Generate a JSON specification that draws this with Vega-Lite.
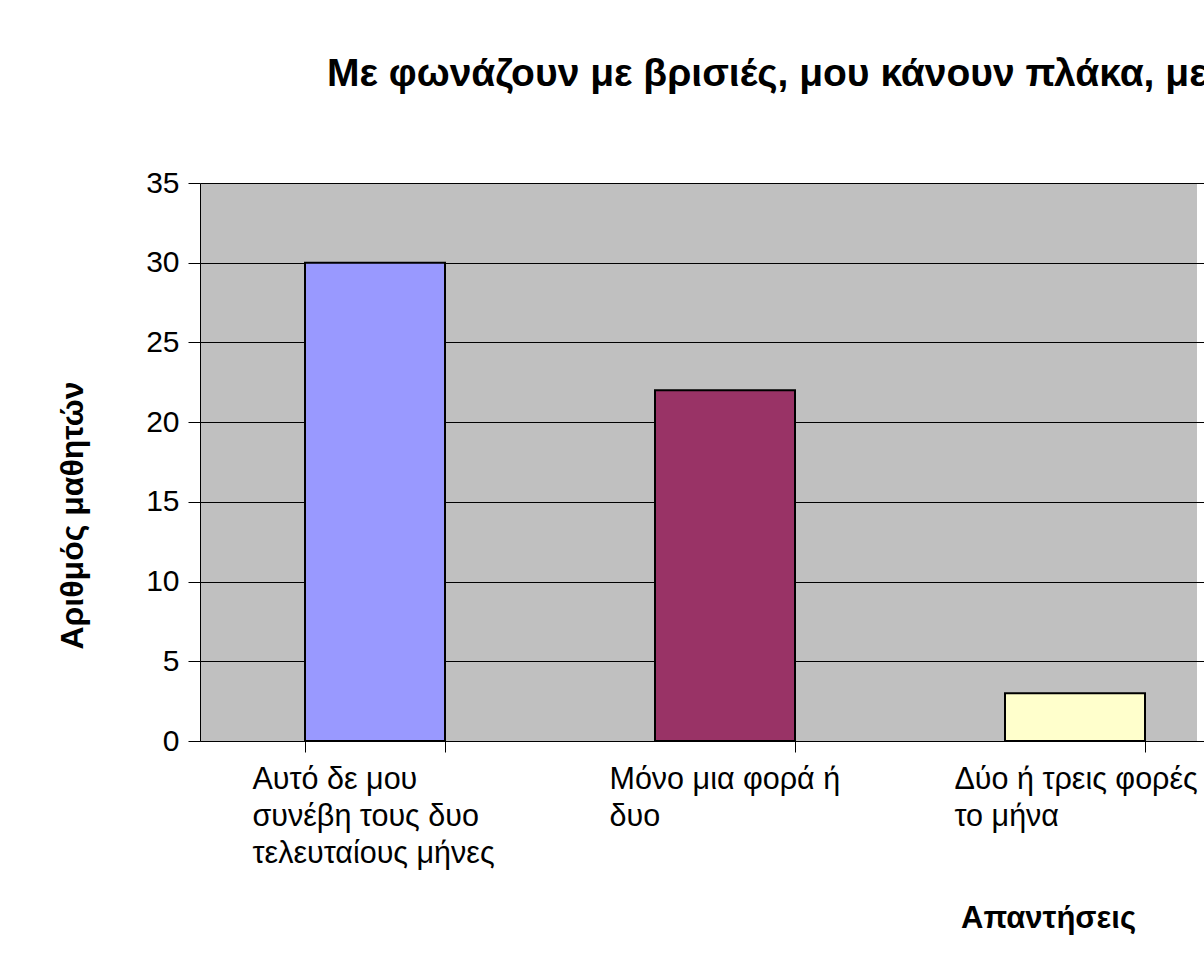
{
  "$schema": "https://vega.github.io/schema/vega-lite/v6.json",
  "autosize": {"type": "none"},
  "width": 997,
  "height": 558,
  "padding": {"left": 200, "top": 183, "right": 7, "bottom": 229},
  "background": "white",
  "config": {
    "font": "Liberation Sans",
    "view": {"fill": "#C0C0C0", "stroke": null}
  },
  "title": {
    "text": "Με φωνάζουν με βρισιές, μου κάνουν πλάκα, με",
    "anchor": "start",
    "frame": "group",
    "dx": 127,
    "baseline": "alphabetic",
    "offset": 43,
    "font": "Liberation Sans",
    "fontSize": 39,
    "fontWeight": "bold",
    "color": "black"
  },
  "data": {
    "values": [
      {"answer": "Αυτό δε μου συνέβη τους δυο τελευταίους μήνες", "students": 30},
      {"answer": "Μόνο μια φορά ή δυο", "students": 22},
      {"answer": "Δύο ή τρεις φορές το μήνα", "students": 3}
    ]
  },
  "mark": {"type": "bar", "stroke": "black", "strokeWidth": 2},
  "encoding": {
    "x": {
      "field": "answer",
      "type": "nominal",
      "sort": null,
      "scale": {"range": [0, 1050], "paddingInner": 0.6, "paddingOuter": 0.3},
      "axis": {
        "title": "Απαντήσεις",
        "titleFont": "Liberation Sans",
        "titleFontSize": 31,
        "titleFontWeight": "bold",
        "titleColor": "black",
        "titleX": 848,
        "titleY": 186,
        "titleAlign": "center",
        "titleBaseline": "alphabetic",
        "titleAngle": 0,
        "labelAngle": 0,
        "labelFont": "Liberation Sans",
        "labelFontSize": 30.5,
        "labelColor": "black",
        "labelAlign": "left",
        "labelBaseline": "top",
        "labelLineHeight": 37,
        "labelPadding": 12,
        "labelLimit": 0,
        "labelExpr": "datum.value == 'Αυτό δε μου συνέβη τους δυο τελευταίους μήνες' ? ['Αυτό δε μου', 'συνέβη τους δυο', 'τελευταίους μήνες'] : datum.value == 'Μόνο μια φορά ή δυο' ? ['Μόνο μια φορά ή', 'δυο'] : datum.value == 'Δύο ή τρεις φορές το μήνα' ? ['Δύο ή τρεις φορές', 'το μήνα'] : ''",
        "labelOffset": {
          "condition": [
            {"test": "datum.value == 'Αυτό δε μου συνέβη τους δυο τελευταίους μήνες'", "value": -123},
            {"test": "datum.value == 'Μόνο μια φορά ή δυο'", "value": -116}
          ],
          "value": -121
        },
        "tickBand": "extent",
        "tickSize": 11,
        "tickColor": "black",
        "domainColor": "black",
        "domainWidth": 1,
        "grid": false
      }
    },
    "y": {
      "field": "students",
      "type": "quantitative",
      "scale": {"domain": [0, 35], "nice": false},
      "axis": {
        "values": [0, 5, 10, 15, 20, 25, 30, 35],
        "title": "Αριθμός μαθητών",
        "titleFont": "Liberation Sans",
        "titleFontSize": 32,
        "titleFontWeight": "bold",
        "titleColor": "black",
        "titleAngle": 270,
        "titleX": -118,
        "titleY": 332,
        "titleAlign": "center",
        "titleBaseline": "alphabetic",
        "labelFont": "Liberation Sans",
        "labelFontSize": 30,
        "labelColor": "black",
        "labelPadding": 9,
        "tickSize": 12,
        "tickColor": "black",
        "domainColor": "black",
        "grid": true,
        "gridColor": "black",
        "gridWidth": 1
      }
    },
    "color": {
      "field": "answer",
      "type": "nominal",
      "sort": null,
      "scale": {
        "domain": ["Αυτό δε μου συνέβη τους δυο τελευταίους μήνες", "Μόνο μια φορά ή δυο", "Δύο ή τρεις φορές το μήνα"],
        "range": ["#9999FF", "#993366", "#FFFFCC"]
      },
      "legend": null
    }
  }
}
